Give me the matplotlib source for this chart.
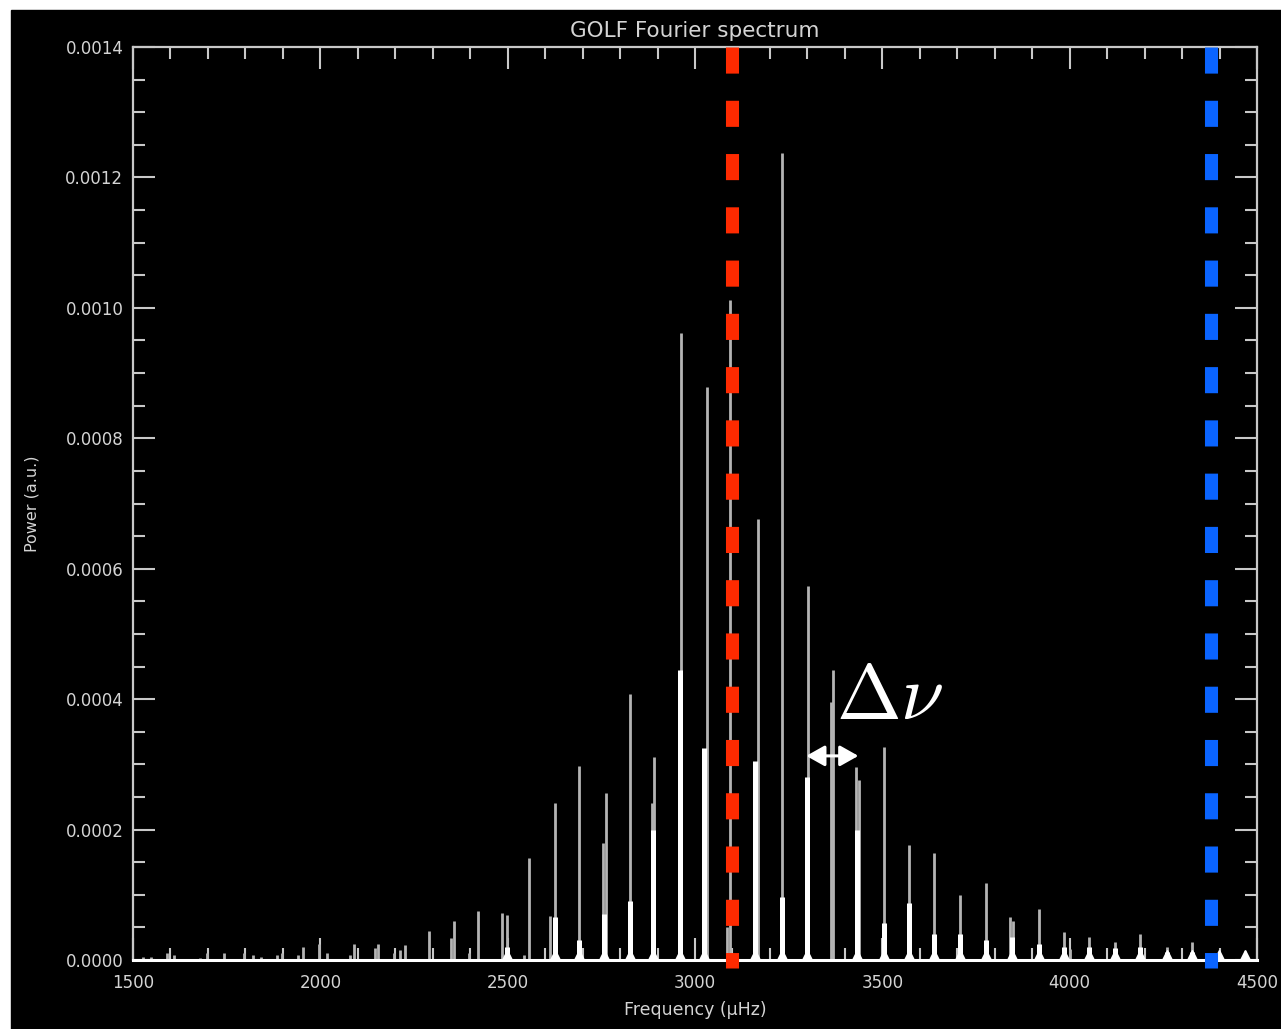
import matplotlib
matplotlib.use("Agg")
import matplotlib.pyplot as plt
from matplotlib.patches import Rectangle
from matplotlib.ticker import MultipleLocator, FormatStrFormatter

# mode peaks (thin grey spikes)
peak_freq = [1527, 1547, 1591, 1610, 1679, 1698, 1743, 1797, 1821, 1842,
             1885, 1898, 1941, 1954, 1997, 2018, 2080, 2091, 2147, 2155,
             2196, 2212, 2225, 2291, 2348, 2358, 2398, 2422, 2484, 2497,
             2543, 2556, 2612, 2626, 2690, 2755, 2762, 2826, 2885, 2890,
             2963, 3032, 3085, 3094, 3168, 3233, 3302, 3362, 3369, 3430,
             3437, 3505, 3572, 3639, 3706, 3778, 3842, 3850, 3917, 3984,
             4000, 4051, 4120, 4189, 4259, 4326, 4398, 4468]
peak_power = [5e-6, 5e-6, 1.0e-5, 7e-6, 3e-6, 1.0e-5, 1.0e-5, 1.0e-5, 7e-6, 4e-6,
              8e-6, 1.0e-5, 8e-6, 2.0e-5, 2.5e-5, 1.0e-5, 7e-6, 2.5e-5, 1.8e-5, 2.5e-5,
              1.0e-5, 1.5e-5, 2.3e-5, 4.4e-5, 3.3e-5, 6.0e-5, 1.0e-5, 7.5e-5, 7.2e-5, 6.9e-5,
              7e-6, 1.57e-4, 6.7e-5, 2.40e-4, 2.97e-4, 1.80e-4, 2.56e-4, 4.08e-4, 2.40e-4, 3.11e-4,
              9.61e-4, 8.79e-4, 5.0e-5, 1.012e-3, 6.76e-4, 1.237e-3, 5.73e-4, 3.96e-4, 4.45e-4, 2.96e-4,
              2.76e-4, 3.27e-4, 1.76e-4, 1.64e-4, 1.00e-4, 1.18e-4, 6.6e-5, 6.0e-5, 7.8e-5, 4.3e-5,
              1.7e-5, 3.5e-5, 2.8e-5, 4.0e-5, 2.0e-5, 2.8e-5, 1.0e-5, 1.4e-5]

# brighter, wider lower part of the modes
core_freq = [2497, 2626, 2690, 2758, 2826, 2888, 2961, 3025, 3160, 3233,
             3300, 3433, 3505, 3572, 3639, 3706, 3778, 3845, 3917, 3984,
             4051, 4120, 4189, 4259, 4326, 4398, 4468]
core_power = [2.0e-5, 6.6e-5, 3.0e-5, 7.0e-5, 9.0e-5, 2.0e-4, 4.45e-4, 3.25e-4, 3.05e-4, 9.7e-5,
              2.8e-4, 2.0e-4, 5.7e-5, 8.7e-5, 4.0e-5, 4.0e-5, 3.0e-5, 3.5e-5, 2.5e-5, 2.0e-5,
              2.0e-5, 1.8e-5, 2.0e-5, 1.2e-5, 1.3e-5, 8e-6, 8e-6]

red_freq = 3100
blue_freq = 4378
dnu_start = 3297
dnu_end = 3436
dnu_level = 3.13e-4

W, H = 1281, 1029
fig = plt.figure(figsize=(W / 100, H / 100), dpi=100, facecolor="white")
fig.add_artist(Rectangle((11 / W, 0), 1270 / W, 1019 / H, transform=fig.transFigure,
                         color="black", zorder=-10))

ax = fig.add_axes([133 / W, 69 / H, 1124 / W, 913 / H])
ax.set_facecolor("black")

ax.vlines(peak_freq, 0, peak_power, color="#b4b4b4", lw=2.0, zorder=2)
ax.vlines(core_freq, 0, core_power, color="white", lw=3.6, zorder=3)
ax.plot(core_freq, [0] * len(core_freq), ls="none", marker="^", ms=14,
        color="white", zorder=3)

for f, c in [(red_freq, "#ff2a00"), (blue_freq, "#0a64ff")]:
    ax.plot([f, f], [0.0014, -1.25e-5], color=c, lw=9.4, dashes=(2.0, 2.08),
            solid_capstyle="butt", dash_capstyle="butt", clip_on=False, zorder=5)

ax.annotate("", xy=(dnu_start, dnu_level), xytext=(dnu_end, dnu_level),
            arrowprops=dict(arrowstyle="<|-|>,head_length=0.8,head_width=0.45",
                            color="white", lw=2.2, mutation_scale=14,
                            shrinkA=0, shrinkB=0), zorder=6)
ax.text(3375, 3.70e-4, r"$\Delta\nu$", color="white", fontsize=56,
        math_fontfamily="cm", ha="left", va="baseline", zorder=6)

ax.set_xlim(1500, 4500)
ax.set_ylim(0, 0.0014)
ax.xaxis.set_major_locator(MultipleLocator(500))
ax.xaxis.set_minor_locator(MultipleLocator(100))
ax.yaxis.set_major_locator(MultipleLocator(0.0002))
ax.yaxis.set_minor_locator(MultipleLocator(0.00005))
ax.xaxis.set_major_formatter(FormatStrFormatter("%d"))
ax.yaxis.set_major_formatter(FormatStrFormatter("%.4f"))

fg = "#d4d4d4"
for s in ax.spines.values():
    s.set_color("#c8c8c8")
    s.set_linewidth(1.6)
ax.spines["bottom"].set_color("white")
ax.spines["bottom"].set_linewidth(2.2)

ax.tick_params(which="both", direction="in", top=True, right=True,
               color="#c8c8c8", width=1.5, labelcolor=fg, labelsize=12)
ax.tick_params(which="major", length=16)
ax.tick_params(which="minor", length=8.5)
ax.tick_params(axis="x", pad=10)
ax.tick_params(axis="y", pad=7)

ax.set_title("GOLF Fourier spectrum", color=fg, fontsize=15.5, pad=7)
ax.set_xlabel("Frequency (\u03bcHz)", color=fg, fontsize=12.5)
ax.set_ylabel("Power (a.u.)", color=fg, fontsize=11.5)
ax.xaxis.set_label_coords(0.5, -0.045)
ax.yaxis.set_label_coords(-0.083, 0.5)

fig.savefig("out.png", dpi=100, facecolor=fig.get_facecolor())
